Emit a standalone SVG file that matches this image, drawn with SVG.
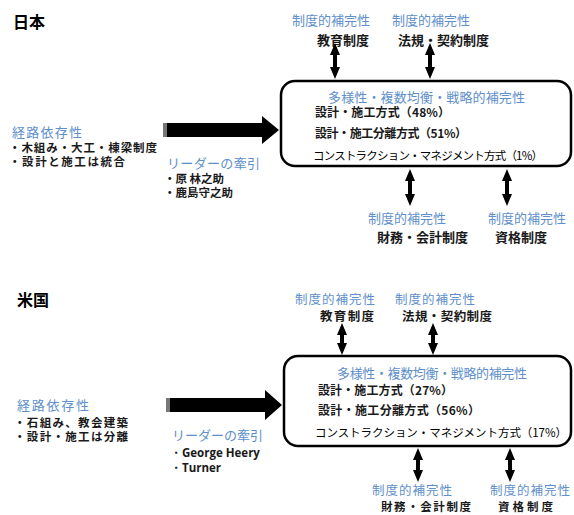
<svg xmlns="http://www.w3.org/2000/svg" width="574" height="515" viewBox="0 0 574 515">
<style>
text{font-family:"Noto Sans CJK JP","Noto Sans",sans-serif;font-size:13px;fill:#1a1a1a;font-weight:bold}
.t{font-size:16px;fill:#000}
.b{fill:#5e8fca;font-weight:normal}
.s{font-size:11.5px}
.m{font-size:12.5px}
.r{font-size:12px}
.n{font-weight:normal;fill:#000;font-size:11.5px}
.box{fill:#fff;stroke:#000;stroke-width:2.5}
.dbl{stroke:#000;stroke-width:4;marker-start:url(#h);marker-end:url(#h)}
.big{fill:#000}
.lat{font-family:"Open Sans","Noto Sans",sans-serif;font-size:11.5px}
</style>
<defs>
<marker id="h" markerUnits="userSpaceOnUse" markerWidth="12" markerHeight="10" viewBox="0 0 12 10" refX="5" refY="5" orient="auto-start-reverse">
<path d="M0,0 L12,5 L0,10 Z" fill="#000"/>
</marker>
</defs>
<rect width="574" height="515" fill="#fff"/>

<!-- 日本 -->
<g id="jp-title"><text class="t" x="13" y="28">日本</text></g>
<g id="jp-path">
<text class="b" x="12" y="137" textLength="70">経路依存性</text>
<text class="s" x="9" y="152" textLength="148">・木組み・大工・棟梁制度</text>
<text class="s" x="9" y="166" textLength="116">・設計と施工は統合</text>
</g>
<g id="jp-leader">
<text class="b" x="167" y="168" textLength="93">リーダーの牽引</text>
<text class="s" x="164" y="183">・原 林之助</text>
<text class="s" x="164" y="197">・鹿島守之助</text>
</g>
<g id="jp-top1"><text class="b" x="292" y="25">制度的補完性</text><text x="317" y="45">教育制度</text></g>
<g id="jp-top2"><text class="b" x="392" y="25">制度的補完性</text><text x="398" y="45">法規・契約制度</text></g>
<g id="jp-bot1"><text class="b" x="368" y="223">制度的補完性</text><text x="377" y="242">財務・会計制度</text></g>
<g id="jp-bot2"><text class="b" x="488" y="223">制度的補完性</text><text x="495" y="242">資格制度</text></g>
<g id="jp-box">
<rect class="box" x="281" y="81" width="290" height="85" rx="14"/>
<text class="b" x="328" y="102" textLength="197">多様性・複数均衡・戦略的補完性</text>
<text class="r" x="315" y="117" textLength="135">設計・施工方式（48%）</text>
<text class="r" x="315" y="138" textLength="152">設計・施工分離方式（51%）</text>
<text class="n" x="313" y="160" textLength="230">コンストラクション・マネジメント方式（1%）</text>
</g>

<!-- 米国 -->
<g id="us-title"><text class="t" x="17" y="306">米国</text></g>
<g id="us-path">
<text class="b" x="17" y="410" textLength="72">経路依存性</text>
<text class="s" x="14" y="427" textLength="114">・石組み、教会建築</text>
<text class="s" x="14" y="441" textLength="114">・設計・施工は分離</text>
</g>
<g id="us-leader">
<text class="b" x="172" y="440" textLength="91">リーダーの牽引</text>
<text class="lat" x="170" y="457">・George Heery</text>
<text class="lat" x="170" y="472">・Turner</text>
</g>
<g id="us-top1"><text class="b m" x="295" y="304" textLength="80">制度的補完性</text><text class="m" x="320" y="321" textLength="54">教育制度</text></g>
<g id="us-top2"><text class="b m" x="395" y="304" textLength="80">制度的補完性</text><text class="m" x="402" y="321" textLength="90">法規・契約制度</text></g>
<g id="us-bot1"><text class="b m" x="372" y="495" textLength="80">制度的補完性</text><text class="s" x="381" y="511" textLength="90">財務・会計制度</text></g>
<g id="us-bot2"><text class="b m" x="490" y="495" textLength="80">制度的補完性</text><text class="s" x="498" y="511" textLength="55">資格制度</text></g>
<g id="us-box">
<rect class="box" x="284" y="356" width="287" height="90" rx="14"/>
<text class="b" x="337" y="378" textLength="190">多様性・複数均衡・戦略的補完性</text>
<text class="r" x="318" y="395" textLength="135">設計・施工方式（27%）</text>
<text class="r" x="318" y="415" textLength="162">設計・施工分離方式（56%）</text>
<text class="n" x="315" y="437" textLength="252">コンストラクション・マネジメント方式（17%）</text>
</g>

<g id="connectors">
<polygon class="big" points="163,123 262,123 262,116 279,130 262,144 262,137 163,137"/>
<rect x="163" y="123" width="4" height="14" fill="#777"/>
<line class="dbl" x1="335" y1="50" x2="335" y2="72"/>
<line class="dbl" x1="430" y1="50" x2="430" y2="72"/>
<line class="dbl" x1="410" y1="176" x2="410" y2="199"/>
<line class="dbl" x1="507" y1="176" x2="507" y2="199"/>
<polygon class="big" points="166,398 265,398 265,390 282,405 265,420 265,412 166,412"/>
<rect x="166" y="398" width="4" height="14" fill="#777"/>
<line class="dbl" x1="342" y1="330" x2="342" y2="348"/>
<line class="dbl" x1="433" y1="330" x2="433" y2="348"/>
<line class="dbl" x1="418" y1="455" x2="418" y2="475"/>
<line class="dbl" x1="510" y1="455" x2="510" y2="475"/>
</g>
</svg>
